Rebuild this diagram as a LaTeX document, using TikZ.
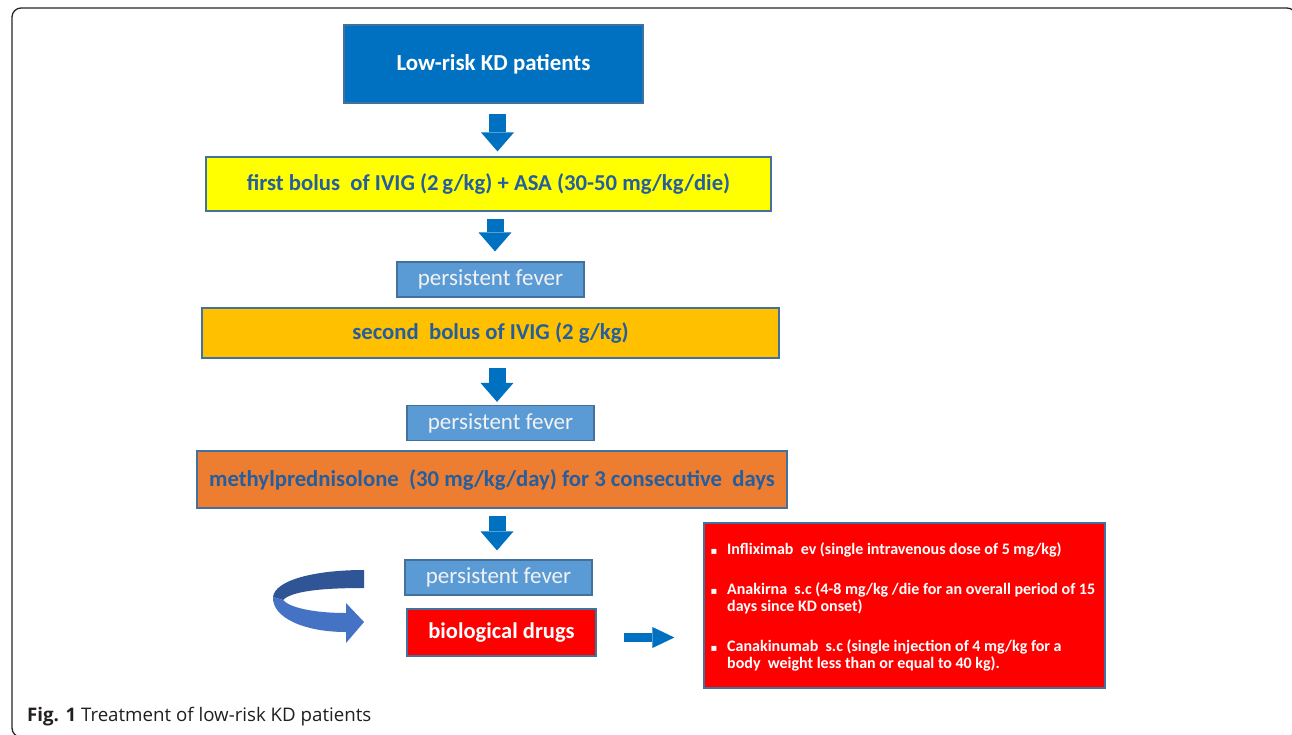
\documentclass[tikz,border=0pt]{standalone}
\usepackage{fontspec}
\setmainfont{Carlito}
\newfontfamily\capfont{Open Sans}
\newfontfamily\symfont{DejaVu Sans}
\usetikzlibrary{arrows.meta,calc}
\definecolor{kdblue}{RGB}{0,112,192}
\definecolor{pfblue}{RGB}{91,155,213}
\definecolor{bord}{RGB}{65,113,156}
\definecolor{txtblue}{RGB}{36,94,158}
\definecolor{kdyellow}{RGB}{255,255,0}
\definecolor{kdamber}{RGB}{255,192,0}
\definecolor{kdorange}{RGB}{237,125,49}
\definecolor{kdred}{RGB}{255,0,0}
\definecolor{ribdark}{RGB}{47,85,151}
\definecolor{riblight}{RGB}{68,114,196}
\definecolor{pftext}{RGB}{242,242,242}
\definecolor{captext}{RGB}{35,31,32}
\begin{document}
\begin{tikzpicture}[x=1pt,y=1pt,
  box/.style={draw=bord, line width=1.2pt, inner sep=0pt, align=center},
  mainbox/.style={box, text=txtblue, font=\bfseries\fontsize{22.7}{25}\selectfont},
  pfbox/.style={box, fill=pfblue, text=pftext, minimum width=187pt, minimum height=35pt, font=\fontsize{23}{25}\selectfont},
  blockarrow/.style={draw=kdblue, line width=17pt, -{Triangle[width=33pt,length=19pt,line width=0pt]}},
  rtext/.style={anchor=base west, text=white, inner sep=0pt, font=\bfseries\fontsize{16}{17}\selectfont},
  bullet/.style={anchor=base, text=white, inner sep=0pt, font=\symfont\fontsize{10}{11}\selectfont}
]
\useasboundingbox (0,0) rectangle (1292,-734);
\fill[white] (0,0) rectangle (1292,-734);
\begin{scope}
  \clip (0,0) rectangle (1292,-734);
  \draw[line width=1.3pt, rounded corners=9pt, black!85] (12,-8) rectangle (1296,-737);
\end{scope}

% boxes
\node[box, fill=kdblue, minimum width=299pt, minimum height=78pt, text=white,
      font=\bfseries\fontsize{22.9}{25}\selectfont] (b1) at (493.5,-64) {\raisebox{-2pt}{Low-risk KD patients}};
\node[mainbox, fill=kdyellow, minimum width=565pt, minimum height=54pt] (b2) at (488.5,-184)
  {\raisebox{-2pt}{first bolus\ \ of IVIG (2\,g/kg) + ASA (30-50 mg/kg/die)}};
\node[pfbox] (pf1) at (490.5,-279.5) {persistent fever};
\node[mainbox, fill=kdamber, minimum width=577pt, minimum height=50pt] (b3) at (490.5,-333)
  {\raisebox{-2pt}{second\ \ bolus of IVIG (2 g/kg)}};
\node[pfbox] (pf2) at (500.5,-423) {persistent fever};
\node[mainbox, fill=kdorange, minimum width=590pt, minimum height=57pt] (b4) at (492,-479.5)
  {\raisebox{-2pt}{methylprednisolone\ \ (30 mg/kg/day) for 3 consecutive\ \ days}};
\node[pfbox] (pf3) at (498.5,-577.5) {persistent fever};
\node[box, fill=kdred, minimum width=189pt, minimum height=47pt, text=white,
      font=\bfseries\fontsize{22.5}{25}\selectfont] (bio) at (501.5,-632.5) {biological drugs};
\node[box, fill=kdred, minimum width=401pt, minimum height=165pt] (rb) at (904.5,-605.5) {};

% list in the red box
\node[bullet] (u1) at (714,-554) {▪};
\node[rtext] (t1) at (727,-554) {Infliximab\ \ ev (single intravenous dose of 5 mg/kg)};
\node[bullet] (u2) at (714,-594) {▪};
\node[rtext] (t2a) at (727,-594) {Anakirna\ \ s.c (4-8 mg/kg /die for an overall period of 15};
\node[rtext] (t2b) at (727,-611) {days since KD\ onset)};
\node[bullet] (u3) at (714,-651) {▪};
\node[rtext] (t3a) at (727,-651) {Canakinumab\ \ s.c (single injection\ of 4 mg/kg for a};
\node[rtext] (t3b) at (727,-668) {body\ \ weight less than or equal to 40 kg).};

% block arrows
\draw[blockarrow, shorten <=10pt, shorten >=5pt] ([xshift=4pt]b1.south) -- ([xshift=4pt]b1.south |- b2.north);
\draw[blockarrow, shorten <=7pt, shorten >=10pt] ([xshift=6.5pt]b2.south) -- ([xshift=6.5pt]b2.south |- pf1.north);
\draw[blockarrow, shorten <=9pt, shorten >=3pt] ([xshift=6.5pt]b3.south) -- ([xshift=6.5pt]b3.south |- pf2.north);
\draw[blockarrow, shorten <=7pt, shorten >=9pt] ([xshift=5pt]b4.south) -- ([xshift=5pt]b4.south |- pf3.north);
\draw[draw=kdblue, line width=9pt, -{Triangle[width=21pt,length=22pt,line width=0pt]},
      shorten <=27pt, shorten >=29pt] ([yshift=-5pt]bio.east) -- ([yshift=-5pt]bio.east -| rb.west);

% curved ribbon arrow
\fill[ribdark] (364,-570) -- (364,-588) .. controls (322,-588) and (292,-591) .. (283,-600)
  -- (273,-597) .. controls (275,-580) and (315,-570) .. (364,-570) -- cycle;
\fill[riblight] (273,-597) .. controls (272,-618) and (305,-632) .. (346,-632)
  -- (346,-643) -- (364,-622) -- (346,-603) -- (346,-613)
  .. controls (315,-613) and (290,-608) .. (283,-600) -- cycle;

% caption
\node[anchor=base west, inner sep=0pt, text=captext, font=\capfont\fontsize{18.7}{21}\selectfont] (cap) at (27,-721)
  {\textbf{Fig. 1} Treatment of low-risk KD patients};
\end{tikzpicture}
\end{document}
